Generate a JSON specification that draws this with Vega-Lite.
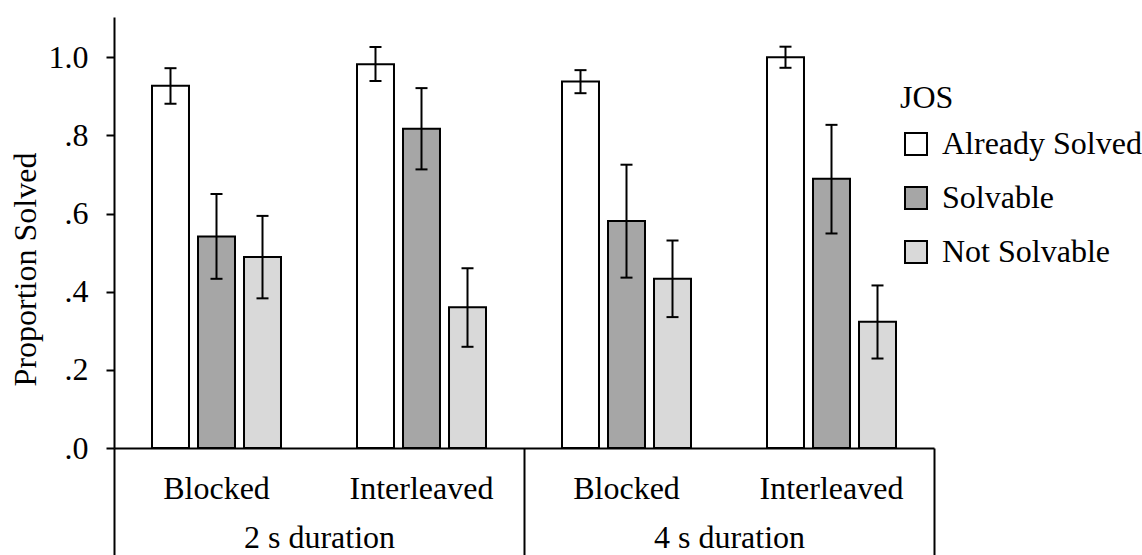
{
  "$schema": "https://vega.github.io/schema/vega-lite/v6.json",
  "autosize": "none",
  "width": 820,
  "height": 431,
  "padding": {"left": 114, "top": 17, "right": 208, "bottom": 107},
  "background": "white",
  "config": {
    "font": "Times New Roman, Liberation Serif, serif",
    "view": {"stroke": null},
    "text": {"font": "Times New Roman, Liberation Serif, serif"},
    "axis": {
      "labelFont": "Times New Roman, Liberation Serif, serif",
      "titleFont": "Times New Roman, Liberation Serif, serif",
      "labelColor": "black",
      "titleColor": "black",
      "domainColor": "black",
      "tickColor": "black",
      "labelFontSize": 32,
      "titleFontSize": 32,
      "titleFontWeight": "normal",
      "grid": false
    },
    "legend": {
      "labelFont": "Times New Roman, Liberation Serif, serif",
      "titleFont": "Times New Roman, Liberation Serif, serif",
      "labelFontSize": 32,
      "titleFontSize": 32,
      "titleFontWeight": "normal",
      "labelColor": "black",
      "titleColor": "black",
      "labelLimit": 0
    }
  },
  "data": {
    "values": [
      {"duration": "2 s duration", "cell": "2s Blocked", "jos": "Already Solved", "value": 0.927, "lo": 0.881, "hi": 0.972},
      {"duration": "2 s duration", "cell": "2s Blocked", "jos": "Solvable", "value": 0.541, "lo": 0.433, "hi": 0.650},
      {"duration": "2 s duration", "cell": "2s Blocked", "jos": "Not Solvable", "value": 0.489, "lo": 0.383, "hi": 0.594},
      {"duration": "2 s duration", "cell": "2s Interleaved", "jos": "Already Solved", "value": 0.982, "lo": 0.939, "hi": 1.026},
      {"duration": "2 s duration", "cell": "2s Interleaved", "jos": "Solvable", "value": 0.817, "lo": 0.713, "hi": 0.921},
      {"duration": "2 s duration", "cell": "2s Interleaved", "jos": "Not Solvable", "value": 0.360, "lo": 0.259, "hi": 0.460},
      {"duration": "4 s duration", "cell": "4s Blocked", "jos": "Already Solved", "value": 0.938, "lo": 0.908, "hi": 0.967},
      {"duration": "4 s duration", "cell": "4s Blocked", "jos": "Solvable", "value": 0.581, "lo": 0.436, "hi": 0.725},
      {"duration": "4 s duration", "cell": "4s Blocked", "jos": "Not Solvable", "value": 0.433, "lo": 0.335, "hi": 0.531},
      {"duration": "4 s duration", "cell": "4s Interleaved", "jos": "Already Solved", "value": 1.000, "lo": 0.973, "hi": 1.027},
      {"duration": "4 s duration", "cell": "4s Interleaved", "jos": "Solvable", "value": 0.689, "lo": 0.549, "hi": 0.827},
      {"duration": "4 s duration", "cell": "4s Interleaved", "jos": "Not Solvable", "value": 0.323, "lo": 0.229, "hi": 0.416}
    ]
  },
  "layer": [
    {
      "encoding": {
        "x": {
          "field": "cell",
          "type": "nominal",
          "scale": {
            "domain": ["2s Blocked", "2s Interleaved", "4s Blocked", "4s Interleaved"],
            "paddingInner": 0,
            "paddingOuter": 0
          },
          "axis": {
            "orient": "bottom",
            "title": null,
            "ticks": false,
            "domainWidth": 2,
            "labelAngle": 0,
            "labelPadding": 25,
            "labelExpr": "indexof(datum.label, 'Blocked') >= 0 ? 'Blocked' : 'Interleaved'"
          }
        },
        "xOffset": {
          "field": "jos",
          "type": "nominal",
          "scale": {
            "domain": ["Already Solved", "Solvable", "Not Solvable"],
            "paddingInner": 0.196,
            "paddingOuter": 0.826
          }
        }
      },
      "layer": [
        {
          "mark": {"type": "bar", "stroke": "black", "strokeWidth": 2},
          "encoding": {
            "y": {
              "field": "value",
              "type": "quantitative",
              "scale": {"domain": [0, 1.103], "nice": false, "zero": true},
              "axis": {
                "title": "Proportion Solved",
                "values": [0, 0.1, 0.2, 0.3, 0.4, 0.5, 0.6, 0.7, 0.8, 0.9, 1.0, 1.1],
                "labelExpr": "datum.value > 1.05 ? '' : (round(datum.value * 10) % 2 == 1 ? '' : (datum.value == 1 ? '1.0' : replace(format(datum.value, '.1f'), '0.', '.')))",
                "domainWidth": 2,
                "tickWidth": 2,
                "tickSize": 8,
                "labelPadding": 18,
                "titleX": -89,
                "titleY": 252,
                "titleBaseline": "middle"
              }
            },
            "color": {
              "field": "jos",
              "type": "nominal",
              "title": "JOS",
              "scale": {
                "domain": ["Already Solved", "Solvable", "Not Solvable"],
                "range": ["#ffffff", "#a6a6a6", "#d9d9d9"]
              },
              "legend": {
                "orient": "none",
                "legendX": 786,
                "legendY": 66,
                "padding": 0,
                "symbolType": "square",
                "symbolSize": 484,
                "symbolStrokeColor": "black",
                "symbolStrokeWidth": 2,
                "symbolOpacity": 1,
                "rowPadding": 22,
                "titlePadding": 13,
                "labelOffset": 10,
                "labelLimit": 0
              }
            }
          }
        },
        {
          "mark": {"type": "rule", "color": "black", "strokeWidth": 2},
          "encoding": {
            "y": {"field": "lo", "type": "quantitative"},
            "y2": {"field": "hi"}
          }
        },
        {
          "mark": {"type": "tick", "color": "black", "size": 12, "thickness": 2, "opacity": 1},
          "encoding": {
            "y": {"field": "hi", "type": "quantitative"}
          }
        },
        {
          "mark": {"type": "tick", "color": "black", "size": 12, "thickness": 2, "opacity": 1},
          "encoding": {
            "y": {"field": "lo", "type": "quantitative"}
          }
        }
      ]
    },
    {
      "mark": {"type": "point", "opacity": 0},
      "encoding": {
        "x": {
          "field": "duration",
          "type": "nominal",
          "scale": {"domain": ["2 s duration", "4 s duration"], "paddingInner": 0, "paddingOuter": 0},
          "axis": {
            "orient": "bottom",
            "title": null,
            "domain": false,
            "ticks": true,
            "tickBand": "extent",
            "tickSize": 107,
            "tickWidth": 2,
            "labelAngle": 0,
            "labelPadding": -33
          }
        },
        "y": {"field": "value", "type": "quantitative"}
      }
    }
  ],
  "resolve": {"scale": {"x": "independent"}, "axis": {"x": "independent"}}
}
